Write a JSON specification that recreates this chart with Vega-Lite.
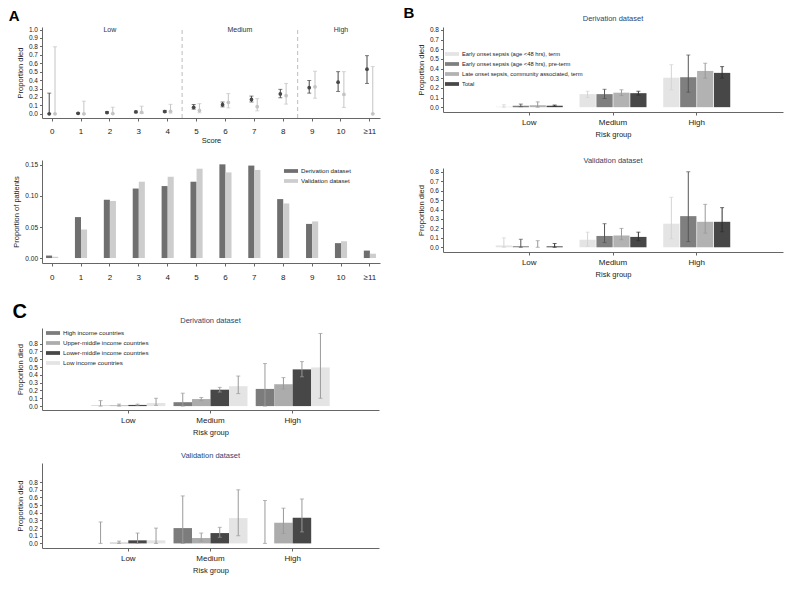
{
  "$schema": "https://vega.github.io/schema/vega-lite/v6.json",
  "background": "white",
  "padding": {"left": 8, "top": 6, "right": 5, "bottom": 5},
  "config": {
    "font": "Liberation Sans",
    "view": {"stroke": null},
    "axis": {"grid": false, "domainColor": "#666", "tickColor": "#666", "labelColor": "#222", "titleColor": "#222", "titleFontWeight": "normal", "titleFontSize": 7.5, "labelFontSize": 6.5, "tickSize": 2.5},
    "axisX": {"labelFontSize": 8, "labelAngle": 0},
    "axisY": {"labelOverlap": false},
    "title": {"fontSize": 7.5, "fontWeight": "normal", "color": "#2e3f6e", "offset": 4},
    "legend": {"orient": "none", "title": null, "labelFontSize": 5.8, "labelColor": "#222", "symbolType": "M-1.5,-0.4H1.5V0.4H-1.5Z", "symbolSize": 88, "symbolStrokeWidth": 0, "rowPadding": 1, "labelOffset": 5}
  },
  "datasets": {
    "scoreDied": [
      {"score": "0", "dataset": "Derivation dataset", "p": 0.0, "lo": 0.0, "hi": 0.245},
      {"score": "1", "dataset": "Derivation dataset", "p": 0.005, "lo": 0.0, "hi": 0.012},
      {"score": "2", "dataset": "Derivation dataset", "p": 0.015, "lo": 0.007, "hi": 0.025},
      {"score": "3", "dataset": "Derivation dataset", "p": 0.022, "lo": 0.014, "hi": 0.032},
      {"score": "4", "dataset": "Derivation dataset", "p": 0.027, "lo": 0.018, "hi": 0.04},
      {"score": "5", "dataset": "Derivation dataset", "p": 0.077, "lo": 0.055, "hi": 0.11},
      {"score": "6", "dataset": "Derivation dataset", "p": 0.108, "lo": 0.082, "hi": 0.14},
      {"score": "7", "dataset": "Derivation dataset", "p": 0.17, "lo": 0.14, "hi": 0.21},
      {"score": "8", "dataset": "Derivation dataset", "p": 0.235, "lo": 0.19, "hi": 0.29},
      {"score": "9", "dataset": "Derivation dataset", "p": 0.31, "lo": 0.245, "hi": 0.395},
      {"score": "10", "dataset": "Derivation dataset", "p": 0.375, "lo": 0.265, "hi": 0.5},
      {"score": "≥11", "dataset": "Derivation dataset", "p": 0.53, "lo": 0.36, "hi": 0.69},
      {"score": "0", "dataset": "Validation dataset", "p": 0.0, "lo": 0.0, "hi": 0.795},
      {"score": "1", "dataset": "Validation dataset", "p": 0.0, "lo": 0.0, "hi": 0.15},
      {"score": "2", "dataset": "Validation dataset", "p": 0.002, "lo": 0.0, "hi": 0.078},
      {"score": "3", "dataset": "Validation dataset", "p": 0.018, "lo": 0.003, "hi": 0.09},
      {"score": "4", "dataset": "Validation dataset", "p": 0.03, "lo": 0.008, "hi": 0.112},
      {"score": "5", "dataset": "Validation dataset", "p": 0.04, "lo": 0.012, "hi": 0.12},
      {"score": "6", "dataset": "Validation dataset", "p": 0.135, "lo": 0.07, "hi": 0.24},
      {"score": "7", "dataset": "Validation dataset", "p": 0.085, "lo": 0.035, "hi": 0.18},
      {"score": "8", "dataset": "Validation dataset", "p": 0.215, "lo": 0.115, "hi": 0.36},
      {"score": "9", "dataset": "Validation dataset", "p": 0.32, "lo": 0.185, "hi": 0.505},
      {"score": "10", "dataset": "Validation dataset", "p": 0.23, "lo": 0.075, "hi": 0.5},
      {"score": "≥11", "dataset": "Validation dataset", "p": 0.0, "lo": 0.0, "hi": 0.56}
    ],
    "cutoffs": [{"pos": 4.5}, {"pos": 8.5}],
    "riskLabels": [{"label": "Low", "pos": 2}, {"label": "Medium", "pos": 6.5}, {"label": "High", "pos": 10}],
    "scorePatients": [
      {"score": "0", "dataset": "Derivation dataset", "prop": 0.004},
      {"score": "1", "dataset": "Derivation dataset", "prop": 0.066},
      {"score": "2", "dataset": "Derivation dataset", "prop": 0.094},
      {"score": "3", "dataset": "Derivation dataset", "prop": 0.112},
      {"score": "4", "dataset": "Derivation dataset", "prop": 0.116},
      {"score": "5", "dataset": "Derivation dataset", "prop": 0.123},
      {"score": "6", "dataset": "Derivation dataset", "prop": 0.151},
      {"score": "7", "dataset": "Derivation dataset", "prop": 0.149},
      {"score": "8", "dataset": "Derivation dataset", "prop": 0.095},
      {"score": "9", "dataset": "Derivation dataset", "prop": 0.055},
      {"score": "10", "dataset": "Derivation dataset", "prop": 0.024},
      {"score": "≥11", "dataset": "Derivation dataset", "prop": 0.012},
      {"score": "0", "dataset": "Validation dataset", "prop": 0.002},
      {"score": "1", "dataset": "Validation dataset", "prop": 0.046},
      {"score": "2", "dataset": "Validation dataset", "prop": 0.092},
      {"score": "3", "dataset": "Validation dataset", "prop": 0.123},
      {"score": "4", "dataset": "Validation dataset", "prop": 0.131},
      {"score": "5", "dataset": "Validation dataset", "prop": 0.144},
      {"score": "6", "dataset": "Validation dataset", "prop": 0.138},
      {"score": "7", "dataset": "Validation dataset", "prop": 0.142},
      {"score": "8", "dataset": "Validation dataset", "prop": 0.088},
      {"score": "9", "dataset": "Validation dataset", "prop": 0.059},
      {"score": "10", "dataset": "Validation dataset", "prop": 0.027},
      {"score": "≥11", "dataset": "Validation dataset", "prop": 0.007}
    ],
    "sepsis": [
      {"panel": "Derivation", "risk": "Low", "group": "Early onset sepsis (age <48 hrs), term", "p": 0.005, "lo": 0.0, "hi": 0.025},
      {"panel": "Derivation", "risk": "Low", "group": "Early onset sepsis (age <48 hrs), pre-term", "p": 0.015, "lo": 0.005, "hi": 0.032},
      {"panel": "Derivation", "risk": "Low", "group": "Late onset sepsis, community associated, term", "p": 0.02, "lo": 0.0, "hi": 0.055},
      {"panel": "Derivation", "risk": "Low", "group": "Total", "p": 0.015, "lo": 0.01, "hi": 0.022},
      {"panel": "Derivation", "risk": "Medium", "group": "Early onset sepsis (age <48 hrs), term", "p": 0.135, "lo": 0.1, "hi": 0.165},
      {"panel": "Derivation", "risk": "Medium", "group": "Early onset sepsis (age <48 hrs), pre-term", "p": 0.135, "lo": 0.09, "hi": 0.185},
      {"panel": "Derivation", "risk": "Medium", "group": "Late onset sepsis, community associated, term", "p": 0.15, "lo": 0.12, "hi": 0.18},
      {"panel": "Derivation", "risk": "Medium", "group": "Total", "p": 0.145, "lo": 0.125, "hi": 0.165},
      {"panel": "Derivation", "risk": "High", "group": "Early onset sepsis (age <48 hrs), term", "p": 0.305, "lo": 0.18, "hi": 0.44},
      {"panel": "Derivation", "risk": "High", "group": "Early onset sepsis (age <48 hrs), pre-term", "p": 0.31, "lo": 0.155, "hi": 0.54},
      {"panel": "Derivation", "risk": "High", "group": "Late onset sepsis, community associated, term", "p": 0.375, "lo": 0.3, "hi": 0.455},
      {"panel": "Derivation", "risk": "High", "group": "Total", "p": 0.355, "lo": 0.3, "hi": 0.42},
      {"panel": "Validation", "risk": "Low", "group": "Early onset sepsis (age <48 hrs), term", "p": 0.02, "lo": 0.0, "hi": 0.1},
      {"panel": "Validation", "risk": "Low", "group": "Early onset sepsis (age <48 hrs), pre-term", "p": 0.01, "lo": 0.0, "hi": 0.085},
      {"panel": "Validation", "risk": "Low", "group": "Late onset sepsis, community associated, term", "p": 0.0, "lo": 0.0, "hi": 0.07},
      {"panel": "Validation", "risk": "Low", "group": "Total", "p": 0.01, "lo": 0.0, "hi": 0.04},
      {"panel": "Validation", "risk": "Medium", "group": "Early onset sepsis (age <48 hrs), term", "p": 0.08, "lo": 0.01, "hi": 0.16},
      {"panel": "Validation", "risk": "Medium", "group": "Early onset sepsis (age <48 hrs), pre-term", "p": 0.12, "lo": 0.05, "hi": 0.25},
      {"panel": "Validation", "risk": "Medium", "group": "Late onset sepsis, community associated, term", "p": 0.125, "lo": 0.08, "hi": 0.2},
      {"panel": "Validation", "risk": "Medium", "group": "Total", "p": 0.11, "lo": 0.07, "hi": 0.16},
      {"panel": "Validation", "risk": "High", "group": "Early onset sepsis (age <48 hrs), term", "p": 0.25, "lo": 0.09, "hi": 0.53},
      {"panel": "Validation", "risk": "High", "group": "Early onset sepsis (age <48 hrs), pre-term", "p": 0.33, "lo": 0.06, "hi": 0.8},
      {"panel": "Validation", "risk": "High", "group": "Late onset sepsis, community associated, term", "p": 0.27, "lo": 0.15, "hi": 0.455},
      {"panel": "Validation", "risk": "High", "group": "Total", "p": 0.27, "lo": 0.165, "hi": 0.42}
    ],
    "income": [
      {"panel": "Derivation", "risk": "Low", "group": "High income countries", "p": 0.005, "lo": 0.0, "hi": 0.07},
      {"panel": "Derivation", "risk": "Low", "group": "Upper-middle income countries", "p": 0.01, "lo": 0.0, "hi": 0.025},
      {"panel": "Derivation", "risk": "Low", "group": "Lower-middle income countries", "p": 0.015, "lo": 0.01, "hi": 0.025},
      {"panel": "Derivation", "risk": "Low", "group": "Low income countries", "p": 0.04, "lo": 0.01, "hi": 0.1},
      {"panel": "Derivation", "risk": "Medium", "group": "High income countries", "p": 0.05, "lo": 0.0, "hi": 0.165},
      {"panel": "Derivation", "risk": "Medium", "group": "Upper-middle income countries", "p": 0.09, "lo": 0.07, "hi": 0.11},
      {"panel": "Derivation", "risk": "Medium", "group": "Lower-middle income countries", "p": 0.21, "lo": 0.18, "hi": 0.24},
      {"panel": "Derivation", "risk": "Medium", "group": "Low income countries", "p": 0.255, "lo": 0.16, "hi": 0.385},
      {"panel": "Derivation", "risk": "High", "group": "High income countries", "p": 0.22, "lo": 0.0, "hi": 0.545},
      {"panel": "Derivation", "risk": "High", "group": "Upper-middle income countries", "p": 0.28, "lo": 0.22, "hi": 0.365},
      {"panel": "Derivation", "risk": "High", "group": "Lower-middle income countries", "p": 0.47, "lo": 0.375, "hi": 0.57},
      {"panel": "Derivation", "risk": "High", "group": "Low income countries", "p": 0.495, "lo": 0.1, "hi": 0.93},
      {"panel": "Validation", "risk": "Low", "group": "High income countries", "p": 0.0, "lo": 0.0, "hi": 0.28},
      {"panel": "Validation", "risk": "Low", "group": "Upper-middle income countries", "p": 0.01, "lo": 0.0, "hi": 0.03},
      {"panel": "Validation", "risk": "Low", "group": "Lower-middle income countries", "p": 0.04, "lo": 0.0, "hi": 0.135},
      {"panel": "Validation", "risk": "Low", "group": "Low income countries", "p": 0.04, "lo": 0.0, "hi": 0.2},
      {"panel": "Validation", "risk": "Medium", "group": "High income countries", "p": 0.2, "lo": 0.0, "hi": 0.62},
      {"panel": "Validation", "risk": "Medium", "group": "Upper-middle income countries", "p": 0.07, "lo": 0.03, "hi": 0.135},
      {"panel": "Validation", "risk": "Medium", "group": "Lower-middle income countries", "p": 0.135, "lo": 0.08, "hi": 0.21},
      {"panel": "Validation", "risk": "Medium", "group": "Low income countries", "p": 0.33, "lo": 0.1, "hi": 0.7},
      {"panel": "Validation", "risk": "High", "group": "High income countries", "p": 0.0, "lo": 0.0, "hi": 0.56},
      {"panel": "Validation", "risk": "High", "group": "Upper-middle income countries", "p": 0.27, "lo": 0.13, "hi": 0.46},
      {"panel": "Validation", "risk": "High", "group": "Lower-middle income countries", "p": 0.335, "lo": 0.15, "hi": 0.58}
    ]
  },
  "spacing": 23,
  "resolve": {"scale": {"xOffset": "independent", "color": "independent"}},
  "hconcat": [
    {
      "spacing": 20,
      "resolve": {"scale": {"xOffset": "independent", "color": "independent"}},
      "vconcat": [
        {
          "title": {"text": "A", "anchor": "start", "frame": "bounds", "fontSize": 15, "fontWeight": "bold", "color": "#000", "offset": 2, "dx": -4},
          "spacing": 16,
          "resolve": {"scale": {"xOffset": "independent", "color": "independent"}},
          "vconcat": [
            {
              "width": 338, "height": 91,
              "layer": [
                {
                  "data": {"name": "scoreDied"},
                  "encoding": {
                    "x": {"field": "score", "type": "ordinal", "sort": ["0","1","2","3","4","5","6","7","8","9","10","≥11"], "scale": {"type": "band", "paddingInner": 0.6, "paddingOuter": 0.15}, "axis": {"title": "Score", "titlePadding": 1, "labelPadding": 6, "tickSize": 3}},
                    "xOffset": {"field": "dataset", "type": "nominal", "scale": {"paddingInner": 0, "paddingOuter": 0}},
                    "color": {"field": "dataset", "type": "nominal", "scale": {"domain": ["Derivation dataset", "Validation dataset"], "range": ["#474747", "#c4c4c4"]}, "legend": null}
                  },
                  "layer": [
                    {"mark": {"type": "rule", "strokeWidth": 1}, "encoding": {"y": {"field": "lo", "type": "quantitative", "scale": {"domain": [-0.05, 1.03], "nice": false, "zero": false}, "axis": {"title": "Proportion died", "values": [0,0.1,0.2,0.3,0.4,0.5,0.6,0.7,0.8,0.9,1.0], "format": ".1f", "titlePadding": 4, "labelOverlap": false}}, "y2": {"field": "hi"}}},
                    {"mark": {"type": "tick", "orient": "horizontal", "size": 4, "thickness": 1}, "encoding": {"y": {"field": "lo", "type": "quantitative", "axis": {"title": "Proportion died", "values": [0,0.1,0.2,0.3,0.4,0.5,0.6,0.7,0.8,0.9,1.0], "format": ".1f", "titlePadding": 4, "labelOverlap": false}}}},
                    {"mark": {"type": "tick", "orient": "horizontal", "size": 4, "thickness": 1}, "encoding": {"y": {"field": "hi", "type": "quantitative", "axis": {"title": "Proportion died", "values": [0,0.1,0.2,0.3,0.4,0.5,0.6,0.7,0.8,0.9,1.0], "format": ".1f", "titlePadding": 4, "labelOverlap": false}}}},
                    {"mark": {"type": "circle", "size": 14, "opacity": 1}, "encoding": {"y": {"field": "p", "type": "quantitative", "axis": {"title": "Proportion died", "values": [0,0.1,0.2,0.3,0.4,0.5,0.6,0.7,0.8,0.9,1.0], "format": ".1f", "titlePadding": 4, "labelOverlap": false}}}}
                  ]
                },
                {
                  "data": {"name": "cutoffs"},
                  "mark": {"type": "rule", "strokeDash": [4, 3], "color": "#bdbdbd", "strokeWidth": 1},
                  "encoding": {"x": {"field": "pos", "type": "quantitative", "scale": {"domain": [-0.35, 11.35], "nice": false, "zero": false}, "axis": null}, "y": {"datum": -0.05, "axis": {"title": "Proportion died", "values": [0,0.1,0.2,0.3,0.4,0.5,0.6,0.7,0.8,0.9,1.0], "format": ".1f", "titlePadding": 4, "labelOverlap": false}}, "y2": {"datum": 1.03}}
                },
                {
                  "data": {"name": "riskLabels"},
                  "mark": {"type": "text", "fontSize": 7, "color": "#333", "baseline": "middle"},
                  "encoding": {"x": {"field": "pos", "type": "quantitative", "scale": {"domain": [-0.35, 11.35], "nice": false, "zero": false}, "axis": null}, "y": {"datum": 0.99, "axis": {"title": "Proportion died", "values": [0,0.1,0.2,0.3,0.4,0.5,0.6,0.7,0.8,0.9,1.0], "format": ".1f", "titlePadding": 4, "labelOverlap": false}}, "text": {"field": "label"}}
                }
              ],
              "resolve": {"scale": {"x": "independent"}}
            },
            {
              "width": 338, "height": 103,
              "data": {"name": "scorePatients"},
              "mark": {"type": "bar"},
              "encoding": {
                "x": {"field": "score", "type": "ordinal", "sort": ["0","1","2","3","4","5","6","7","8","9","10","≥11"], "scale": {"type": "band", "paddingInner": 0.58, "paddingOuter": 0.14}, "axis": {"title": null, "labelPadding": 7, "tickSize": 3}},
                "xOffset": {"field": "dataset", "type": "nominal", "scale": {"paddingInner": 0, "paddingOuter": 0}},
                "y": {"field": "prop", "type": "quantitative", "scale": {"domain": [-0.008, 0.158], "nice": false, "zero": false}, "axis": {"title": "Proportion of patients", "values": [0, 0.05, 0.1, 0.15], "format": ".2f", "titlePadding": 4}},
                "y2": {"datum": 0},
                "color": {"field": "dataset", "type": "nominal", "scale": {"domain": ["Derivation dataset", "Validation dataset"], "range": ["#6f6f6f", "#cdcdcd"]}, "legend": {"legendX": 244, "legendY": 6, "labelFontSize": 6.2}}
              }
            }
          ]
        },
        {
          "title": {"text": "C", "anchor": "start", "frame": "bounds", "fontSize": 20, "fontWeight": "bold", "color": "#000", "offset": -5, "dx": -4},
          "spacing": 15,
          "resolve": {"scale": {"xOffset": "independent", "color": "independent"}},
          "vconcat": [
            {
              "width": 337, "height": 82,
              "title": "Derivation dataset",
              "data": {"name": "income"},
              "transform": [{"filter": "datum.panel === 'Derivation'"}],
              "encoding": {
                "x": {"field": "risk", "type": "nominal", "sort": ["Low", "Medium", "High"], "scale": {"paddingInner": 0.1, "paddingOuter": 0.6}, "axis": {"title": "Risk group", "labelPadding": 3, "titlePadding": 4, "tickSize": 3}},
                "xOffset": {"field": "group", "type": "nominal", "sort": ["High income countries", "Upper-middle income countries", "Lower-middle income countries", "Low income countries"], "scale": {"paddingInner": 0, "paddingOuter": 0}}
              },
              "layer": [
                {"mark": {"type": "bar"}, "encoding": {
                  "y": {"field": "p", "type": "quantitative", "scale": {"domain": [-0.05, 1.0], "nice": false, "zero": false}, "axis": {"title": "Proportion died", "values": [0,0.1,0.2,0.3,0.4,0.5,0.6,0.7,0.8], "format": ".1f", "titlePadding": 4, "labelOverlap": false}},
                  "y2": {"datum": 0},
                  "color": {"field": "group", "type": "nominal", "scale": {"domain": ["High income countries", "Upper-middle income countries", "Lower-middle income countries", "Low income countries"], "range": ["#7c7c7c", "#acacac", "#474747", "#e4e4e4"]}, "legend": {"legendX": 6, "legendY": 0, "labelFontSize": 6.2}}
                }},
                {"mark": {"type": "rule", "color": "#9a9a9a", "strokeWidth": 1}, "encoding": {"y": {"field": "lo", "type": "quantitative", "axis": {"title": "Proportion died", "values": [0,0.1,0.2,0.3,0.4,0.5,0.6,0.7,0.8], "format": ".1f", "titlePadding": 4, "labelOverlap": false}}, "y2": {"field": "hi"}}},
                {"mark": {"type": "tick", "orient": "horizontal", "size": 4, "thickness": 1, "color": "#9a9a9a"}, "encoding": {"y": {"field": "lo", "type": "quantitative", "axis": {"title": "Proportion died", "values": [0,0.1,0.2,0.3,0.4,0.5,0.6,0.7,0.8], "format": ".1f", "titlePadding": 4, "labelOverlap": false}}}},
                {"mark": {"type": "tick", "orient": "horizontal", "size": 4, "thickness": 1, "color": "#9a9a9a"}, "encoding": {"y": {"field": "hi", "type": "quantitative", "axis": {"title": "Proportion died", "values": [0,0.1,0.2,0.3,0.4,0.5,0.6,0.7,0.8], "format": ".1f", "titlePadding": 4, "labelOverlap": false}}}}
              ]
            },
            {
              "width": 337, "height": 85,
              "title": "Validation dataset",
              "data": {"name": "income"},
              "transform": [{"filter": "datum.panel === 'Validation'"}],
              "encoding": {
                "x": {"field": "risk", "type": "nominal", "sort": ["Low", "Medium", "High"], "scale": {"paddingInner": 0.1, "paddingOuter": 0.6}, "axis": {"title": "Risk group", "labelPadding": 3, "titlePadding": 4, "tickSize": 3}},
                "xOffset": {"field": "group", "type": "nominal", "sort": ["High income countries", "Upper-middle income countries", "Lower-middle income countries", "Low income countries"], "scale": {"domain": ["High income countries", "Upper-middle income countries", "Lower-middle income countries", "Low income countries"], "paddingInner": 0, "paddingOuter": 0}}
              },
              "layer": [
                {"mark": {"type": "bar"}, "encoding": {
                  "y": {"field": "p", "type": "quantitative", "scale": {"domain": [-0.06, 1.05], "nice": false, "zero": false}, "axis": {"title": "Proportion died", "values": [0,0.1,0.2,0.3,0.4,0.5,0.6,0.7,0.8], "format": ".1f", "titlePadding": 4, "labelOverlap": false}},
                  "y2": {"datum": 0},
                  "color": {"field": "group", "type": "nominal", "scale": {"domain": ["High income countries", "Upper-middle income countries", "Lower-middle income countries", "Low income countries"], "range": ["#7c7c7c", "#acacac", "#474747", "#e4e4e4"]}, "legend": null}
                }},
                {"mark": {"type": "rule", "color": "#9a9a9a", "strokeWidth": 1}, "encoding": {"y": {"field": "lo", "type": "quantitative", "axis": {"title": "Proportion died", "values": [0,0.1,0.2,0.3,0.4,0.5,0.6,0.7,0.8], "format": ".1f", "titlePadding": 4, "labelOverlap": false}}, "y2": {"field": "hi"}}},
                {"mark": {"type": "tick", "orient": "horizontal", "size": 4, "thickness": 1, "color": "#9a9a9a"}, "encoding": {"y": {"field": "lo", "type": "quantitative", "axis": {"title": "Proportion died", "values": [0,0.1,0.2,0.3,0.4,0.5,0.6,0.7,0.8], "format": ".1f", "titlePadding": 4, "labelOverlap": false}}}},
                {"mark": {"type": "tick", "orient": "horizontal", "size": 4, "thickness": 1, "color": "#9a9a9a"}, "encoding": {"y": {"field": "hi", "type": "quantitative", "axis": {"title": "Proportion died", "values": [0,0.1,0.2,0.3,0.4,0.5,0.6,0.7,0.8], "format": ".1f", "titlePadding": 4, "labelOverlap": false}}}}
              ]
            }
          ]
        }
      ]
    },
    {
      "resolve": {"scale": {"xOffset": "independent", "color": "independent"}},
      "vconcat": [
        {
          "title": {"text": "B", "anchor": "start", "frame": "bounds", "fontSize": 15, "fontWeight": "bold", "color": "#000", "offset": -6, "dx": -14},
          "spacing": 18,
          "resolve": {"scale": {"xOffset": "independent", "color": "independent"}},
          "vconcat": [
            {
              "width": 340, "height": 85,
              "title": "Derivation dataset",
              "data": {"name": "sepsis"},
              "transform": [{"filter": "datum.panel === 'Derivation'"}],
              "encoding": {
                "x": {"field": "risk", "type": "nominal", "sort": ["Low", "Medium", "High"], "scale": {"paddingInner": 0.2, "paddingOuter": 0.63}, "axis": {"title": "Risk group", "labelPadding": 3, "titlePadding": 4, "tickSize": 3}},
                "xOffset": {"field": "group", "type": "nominal", "sort": ["Early onset sepsis (age <48 hrs), term", "Early onset sepsis (age <48 hrs), pre-term", "Late onset sepsis, community associated, term", "Total"], "scale": {"paddingInner": 0.04, "paddingOuter": 0}}
              },
              "layer": [
                {"mark": {"type": "bar"}, "encoding": {
                  "y": {"field": "p", "type": "quantitative", "scale": {"domain": [-0.05, 0.83], "nice": false, "zero": false}, "axis": {"title": "Proportion died", "values": [0,0.1,0.2,0.3,0.4,0.5,0.6,0.7,0.8], "format": ".1f", "titlePadding": 4, "labelOverlap": false}},
                  "y2": {"datum": 0},
                  "color": {"field": "group", "type": "nominal", "scale": {"domain": ["Early onset sepsis (age <48 hrs), term", "Early onset sepsis (age <48 hrs), pre-term", "Late onset sepsis, community associated, term", "Total"], "range": ["#e4e4e4", "#7f7f7f", "#b2b2b2", "#474747"]}, "legend": {"legendX": 4, "legendY": 22, "rowPadding": 2}}
                }},
                {
                  "encoding": {"color": {"field": "group", "type": "nominal", "scale": {"domain": ["Early onset sepsis (age <48 hrs), term", "Early onset sepsis (age <48 hrs), pre-term", "Late onset sepsis, community associated, term", "Total"], "range": ["#d4d4d4", "#555555", "#999999", "#2e2e2e"]}, "legend": null}},
                  "layer": [
                    {"mark": {"type": "rule", "strokeWidth": 1}, "encoding": {"y": {"field": "lo", "type": "quantitative", "axis": {"title": "Proportion died", "values": [0,0.1,0.2,0.3,0.4,0.5,0.6,0.7,0.8], "format": ".1f", "titlePadding": 4, "labelOverlap": false}}, "y2": {"field": "hi"}}},
                    {"mark": {"type": "tick", "orient": "horizontal", "size": 4, "thickness": 1}, "encoding": {"y": {"field": "lo", "type": "quantitative", "axis": {"title": "Proportion died", "values": [0,0.1,0.2,0.3,0.4,0.5,0.6,0.7,0.8], "format": ".1f", "titlePadding": 4, "labelOverlap": false}}}},
                    {"mark": {"type": "tick", "orient": "horizontal", "size": 4, "thickness": 1}, "encoding": {"y": {"field": "hi", "type": "quantitative", "axis": {"title": "Proportion died", "values": [0,0.1,0.2,0.3,0.4,0.5,0.6,0.7,0.8], "format": ".1f", "titlePadding": 4, "labelOverlap": false}}}}
                  ]
                }
              ],
              "resolve": {"scale": {"color": "independent"}}
            },
            {
              "width": 340, "height": 84,
              "title": "Validation dataset",
              "data": {"name": "sepsis"},
              "transform": [{"filter": "datum.panel === 'Validation'"}],
              "encoding": {
                "x": {"field": "risk", "type": "nominal", "sort": ["Low", "Medium", "High"], "scale": {"paddingInner": 0.2, "paddingOuter": 0.63}, "axis": {"title": "Risk group", "labelPadding": 3, "titlePadding": 4, "tickSize": 3}},
                "xOffset": {"field": "group", "type": "nominal", "sort": ["Early onset sepsis (age <48 hrs), term", "Early onset sepsis (age <48 hrs), pre-term", "Late onset sepsis, community associated, term", "Total"], "scale": {"paddingInner": 0.04, "paddingOuter": 0}}
              },
              "layer": [
                {"mark": {"type": "bar"}, "encoding": {
                  "y": {"field": "p", "type": "quantitative", "scale": {"domain": [-0.05, 0.84], "nice": false, "zero": false}, "axis": {"title": "Proportion died", "values": [0,0.1,0.2,0.3,0.4,0.5,0.6,0.7,0.8], "format": ".1f", "titlePadding": 4, "labelOverlap": false}},
                  "y2": {"datum": 0},
                  "color": {"field": "group", "type": "nominal", "scale": {"domain": ["Early onset sepsis (age <48 hrs), term", "Early onset sepsis (age <48 hrs), pre-term", "Late onset sepsis, community associated, term", "Total"], "range": ["#e4e4e4", "#7f7f7f", "#b2b2b2", "#474747"]}, "legend": null}
                }},
                {
                  "encoding": {"color": {"field": "group", "type": "nominal", "scale": {"domain": ["Early onset sepsis (age <48 hrs), term", "Early onset sepsis (age <48 hrs), pre-term", "Late onset sepsis, community associated, term", "Total"], "range": ["#d4d4d4", "#555555", "#999999", "#2e2e2e"]}, "legend": null}},
                  "layer": [
                    {"mark": {"type": "rule", "strokeWidth": 1}, "encoding": {"y": {"field": "lo", "type": "quantitative", "axis": {"title": "Proportion died", "values": [0,0.1,0.2,0.3,0.4,0.5,0.6,0.7,0.8], "format": ".1f", "titlePadding": 4, "labelOverlap": false}}, "y2": {"field": "hi"}}},
                    {"mark": {"type": "tick", "orient": "horizontal", "size": 4, "thickness": 1}, "encoding": {"y": {"field": "lo", "type": "quantitative", "axis": {"title": "Proportion died", "values": [0,0.1,0.2,0.3,0.4,0.5,0.6,0.7,0.8], "format": ".1f", "titlePadding": 4, "labelOverlap": false}}}},
                    {"mark": {"type": "tick", "orient": "horizontal", "size": 4, "thickness": 1}, "encoding": {"y": {"field": "hi", "type": "quantitative", "axis": {"title": "Proportion died", "values": [0,0.1,0.2,0.3,0.4,0.5,0.6,0.7,0.8], "format": ".1f", "titlePadding": 4, "labelOverlap": false}}}}
                  ]
                }
              ],
              "resolve": {"scale": {"color": "independent"}}
            }
          ]
        }
      ]
    }
  ]
}
